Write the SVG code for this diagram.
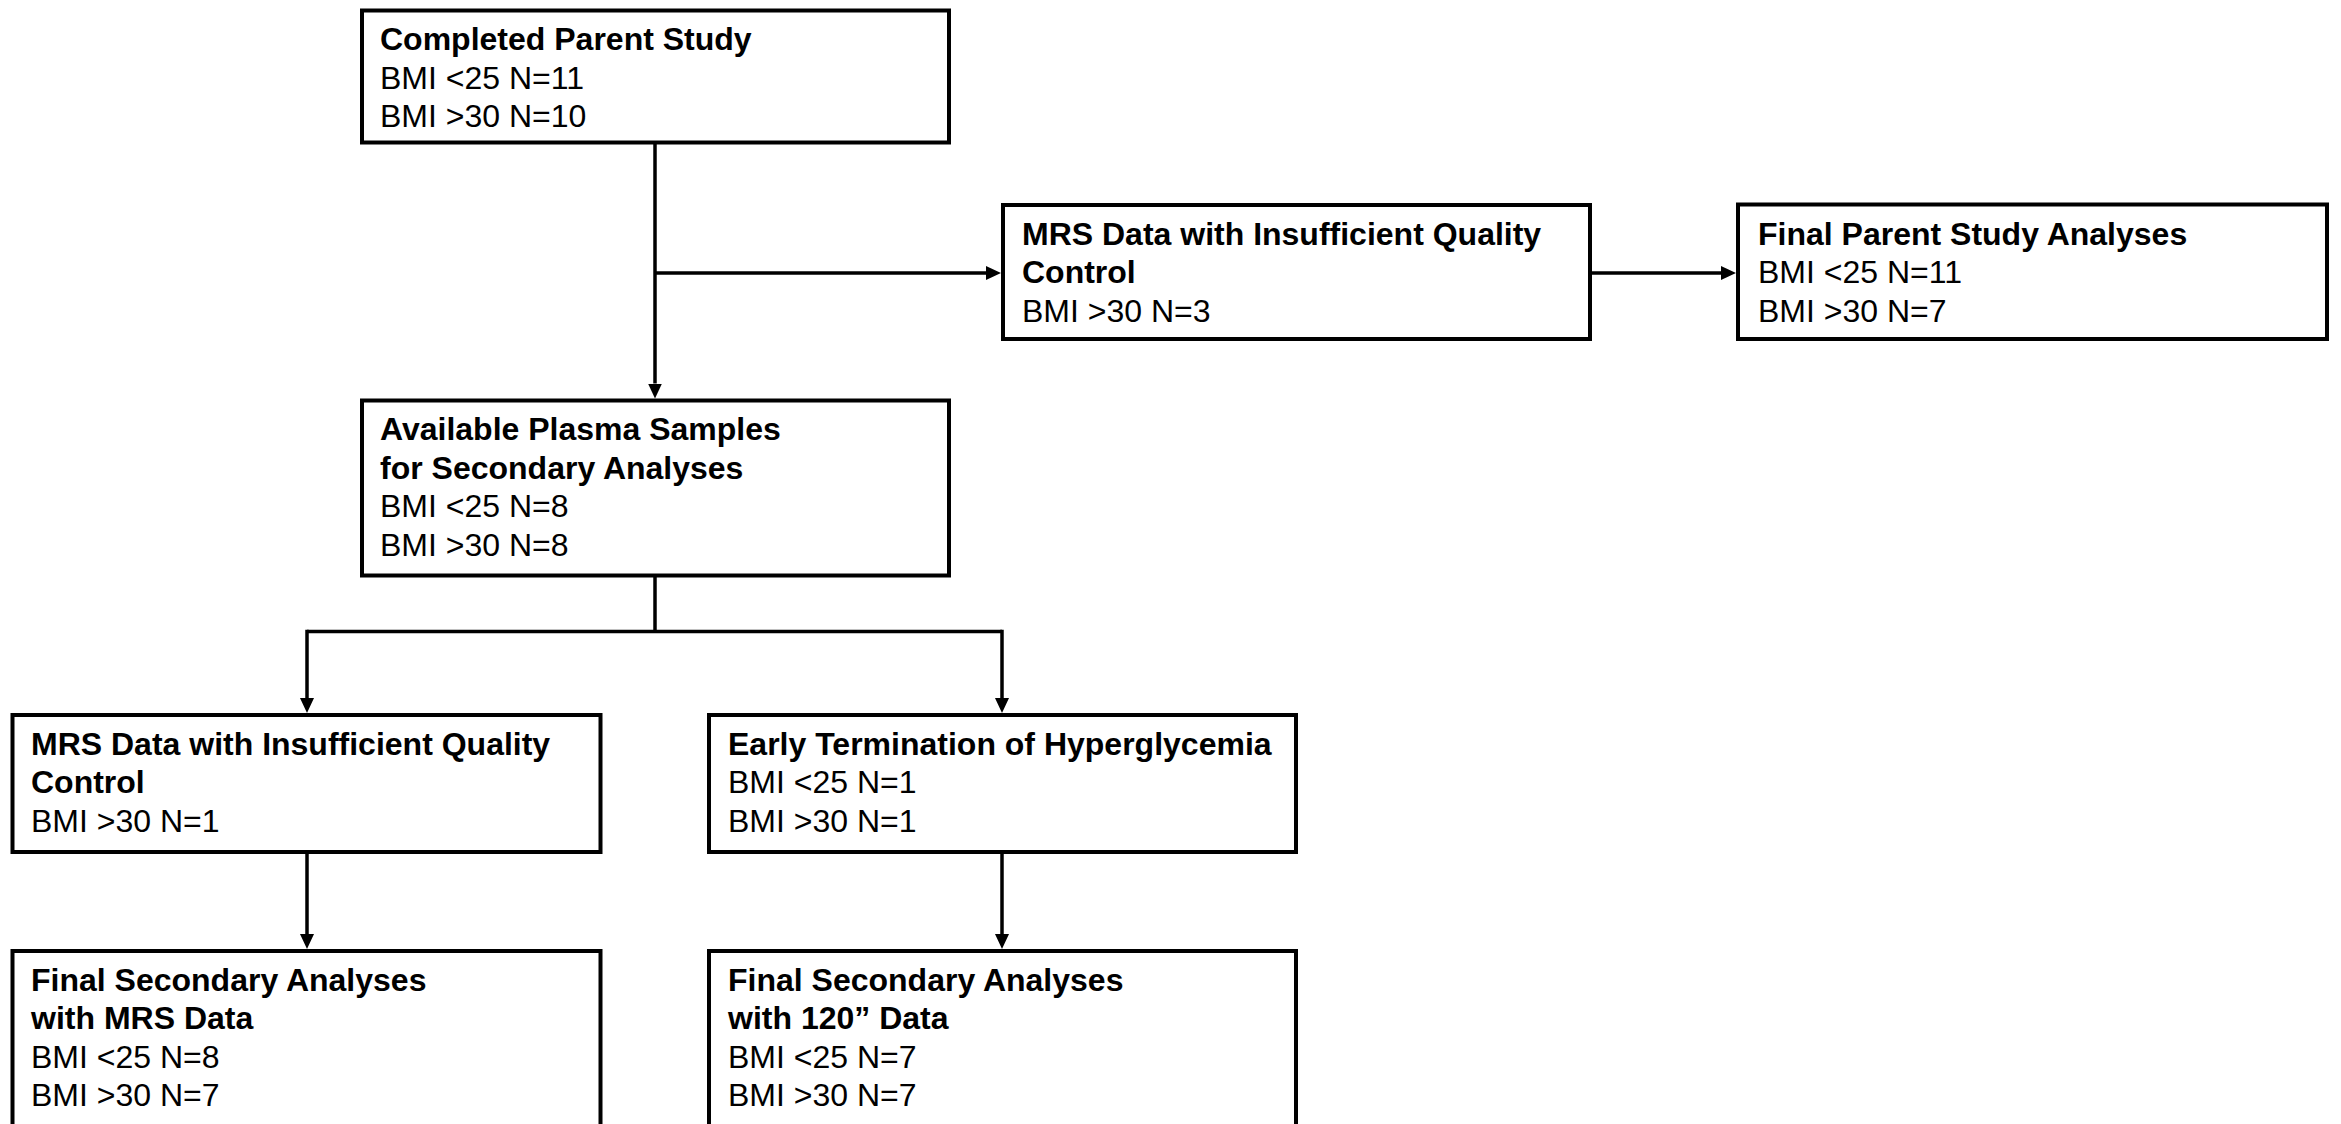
<svg xmlns="http://www.w3.org/2000/svg" width="2341" height="1124" viewBox="0 0 2341 1124">
<style>
.box{fill:#fff;stroke:#000;stroke-width:4}
.con{fill:none;stroke:#000;stroke-width:3.5}
text{font-family:"Liberation Sans",Arial,sans-serif;font-size:32px;fill:#000}
.b{font-weight:bold}
</style>
<defs>
<marker id="ah" markerUnits="userSpaceOnUse" markerWidth="15" markerHeight="14" refX="0" refY="7" orient="auto">
<path d="M0,0 L15,7 L0,14 z" fill="#000"/>
</marker>
</defs>
<rect width="2341" height="1124" fill="#fff"/>
<g id="connectors">
<path class="con" d="M655,142.5 V383.5" marker-end="url(#ah)"/>
<path class="con" d="M655,273 H986" marker-end="url(#ah)"/>
<path class="con" d="M1590,273 H1721" marker-end="url(#ah)"/>
<path class="con" d="M655,575 V631.5"/>
<path class="con" d="M307,631.5 H1002"/>
<path class="con" d="M307,629.75 V698" marker-end="url(#ah)"/>
<path class="con" d="M1002,629.75 V698" marker-end="url(#ah)"/>
<path class="con" d="M307,852 V934" marker-end="url(#ah)"/>
<path class="con" d="M1002,852 V934" marker-end="url(#ah)"/>
</g>
<g id="completed-parent-study">
<rect class="box" x="362" y="10.5" width="587" height="132"/>
<text x="380" y="50" class="b">Completed Parent Study</text>
<text x="380" y="88.6">BMI &lt;25 N=11</text>
<text x="380" y="127.2">BMI &gt;30 N=10</text>
</g>
<g id="mrs-insufficient-top">
<rect class="box" x="1003" y="205" width="587" height="134"/>
<text x="1022" y="244.5" class="b">MRS Data with Insufficient Quality</text>
<text x="1022" y="283" class="b">Control</text>
<text x="1022" y="321.7">BMI &gt;30 N=3</text>
</g>
<g id="final-parent-study">
<rect class="box" x="1738" y="204.5" width="589" height="134.5"/>
<text x="1758" y="244.5" class="b">Final Parent Study Analyses</text>
<text x="1758" y="283">BMI &lt;25 N=11</text>
<text x="1758" y="321.7">BMI &gt;30 N=7</text>
</g>
<g id="available-plasma">
<rect class="box" x="362" y="400.5" width="587" height="175"/>
<text x="380" y="440" class="b">Available Plasma Samples</text>
<text x="380" y="478.6" class="b">for Secondary Analyses</text>
<text x="380" y="517.2">BMI &lt;25 N=8</text>
<text x="380" y="555.8">BMI &gt;30 N=8</text>
</g>
<g id="mrs-insufficient-lower">
<rect class="box" x="12.5" y="715" width="588" height="137"/>
<text x="31" y="754.5" class="b">MRS Data with Insufficient Quality</text>
<text x="31" y="793" class="b">Control</text>
<text x="31" y="831.7">BMI &gt;30 N=1</text>
</g>
<g id="early-termination">
<rect class="box" x="709" y="715" width="587" height="137"/>
<text x="728" y="754.5" class="b">Early Termination of Hyperglycemia</text>
<text x="728" y="793">BMI &lt;25 N=1</text>
<text x="728" y="831.7">BMI &gt;30 N=1</text>
</g>
<g id="final-secondary-mrs">
<rect class="box" x="12.5" y="951" width="588" height="200"/>
<text x="31" y="990.5" class="b">Final Secondary Analyses</text>
<text x="31" y="1029" class="b">with MRS Data</text>
<text x="31" y="1067.7">BMI &lt;25 N=8</text>
<text x="31" y="1106.3">BMI &gt;30 N=7</text>
</g>
<g id="final-secondary-120">
<rect class="box" x="709" y="951" width="587" height="200"/>
<text x="728" y="990.5" class="b">Final Secondary Analyses</text>
<text x="728" y="1029" class="b">with 120” Data</text>
<text x="728" y="1067.7">BMI &lt;25 N=7</text>
<text x="728" y="1106.3">BMI &gt;30 N=7</text>
</g>
</svg>
